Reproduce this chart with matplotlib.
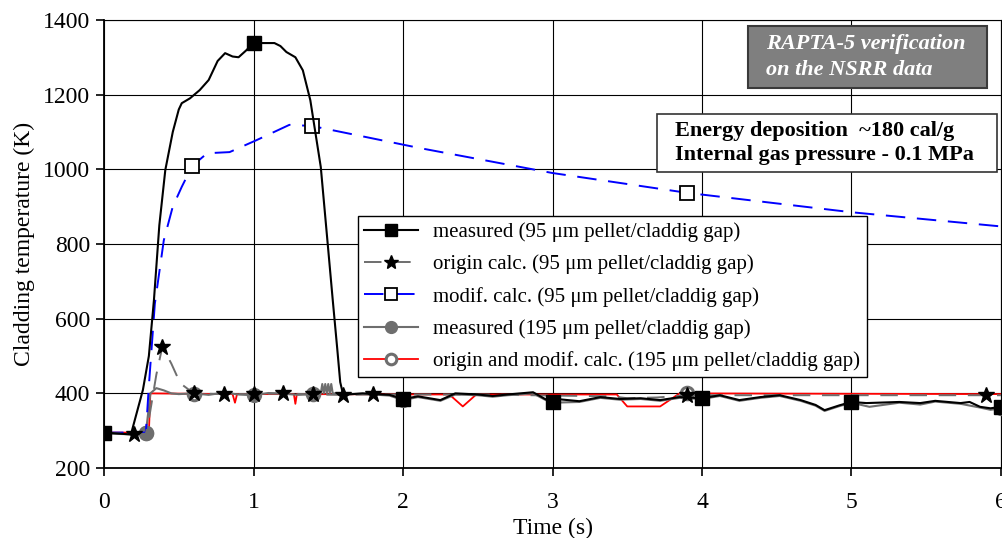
import matplotlib.pyplot as plt
import matplotlib.patches as patches
import numpy as np

plt.rcParams['font.family'] = ['Liberation Serif', 'DejaVu Serif']

# measured, 95 um gap (black, filled squares)
t_m95 = [0, 0.18, 0.26, 0.3, 0.334, 0.37, 0.41, 0.46, 0.50, 0.52, 0.575, 0.64, 0.70, 0.76,
         0.81, 0.86, 0.90, 0.95, 1.0, 1.14, 1.18, 1.22, 1.28, 1.33, 1.38, 1.45, 1.50, 1.53,
         1.56, 1.58, 1.6, 1.73, 1.91, 2.0, 2.1, 2.25,
         2.35, 2.5, 2.6, 2.7, 2.87, 2.95, 3.0, 3.05, 3.18, 3.32, 3.45, 3.59, 3.72, 3.85, 4.0,
         4.12, 4.25, 4.39, 4.52, 4.66, 4.76, 4.82, 4.92, 5.0, 5.1, 5.32, 5.46, 5.56, 5.73,
         5.79, 5.86, 5.93, 6.0]
T_m95 = [295, 290, 409, 500, 650, 850, 998, 1100, 1160, 1177, 1190, 1212, 1239, 1290,
         1311, 1302, 1300, 1318, 1338, 1338, 1330, 1314, 1300, 1265, 1185, 1006, 784, 650,
         520, 430, 396, 400, 396, 385, 392, 382,
         400, 397, 393, 397, 403, 385, 377, 384, 379, 390, 385, 387, 382, 390, 387,
         395, 382, 390, 395, 382, 369, 355, 368, 377, 374, 377, 374, 380, 374,
         377, 364, 360, 364]
marks_m95 = [0, 1, 2, 3, 4, 5, 6]

# origin calc, 95 um gap (grey dashed, stars)
t_o95 = [0, 0.2, 0.28, 0.3, 0.35, 0.39, 0.45, 0.51, 0.6, 0.8, 1.0, 1.2, 1.4, 1.6, 1.8,
         2.5, 3.4, 3.5, 3.7, 3.9, 5.9, 6.0]
T_o95 = [295, 290, 292, 330, 450, 525, 480, 427, 400, 398, 398, 400, 397, 396, 397,
         397, 392, 387, 389, 395, 395, 395]
marks_o95 = [0.2, 0.39, 0.6, 0.8, 1.0, 1.2, 1.4, 1.6, 1.8, 3.9, 5.9]

# modified calc, 95 um gap (blue dashed, open squares)
t_c95 = [0, 0.28, 0.3, 0.34, 0.4, 0.46, 0.52, 0.59, 0.69, 0.84, 1.02, 1.24, 1.39, 2.11,
         3.0, 3.9, 5.0, 6.0]
T_c95 = [295, 295, 420, 640, 810, 900, 953, 1009, 1043, 1046, 1078, 1119, 1116, 1057,
         990, 937, 885, 847]
marks_c95 = [0.59, 1.39, 3.9]

# measured, 195 um gap (grey solid, filled circles)
t_m195 = [0, 0.2, 0.28, 0.31, 0.35, 0.4, 0.45, 0.5, 0.6, 0.7, 0.8, 0.9, 1.0, 1.1, 1.2, 1.3,
          1.4, 1.45, 1.46, 1.47, 1.48, 1.49, 1.5, 1.51, 1.52, 1.53, 1.54, 1.6, 1.73, 1.91,
          2.0, 2.1, 2.25, 2.35, 2.5, 2.6, 2.7, 2.87, 2.95, 3.0, 3.18, 3.32, 3.45, 3.59,
          3.72, 3.85, 4.0, 4.12, 4.25, 4.39, 4.52, 4.66, 4.76, 4.82, 4.92, 5.0, 5.12,
          5.32, 5.46, 5.56, 5.73, 5.86, 5.93, 6.0]
T_m195 = [293, 290, 293, 400, 414, 408, 400, 398, 400, 396, 402, 397, 395, 401, 399, 396,
          398, 400, 425, 400, 425, 400, 425, 400, 425, 400, 400, 398, 399, 394,
          382, 390, 380, 397, 395, 391, 395, 400, 383, 375, 377, 388, 383, 385,
          380, 388, 385, 393, 380, 388, 393, 380, 367, 353, 366, 375, 364,
          375, 370, 378, 372, 362, 356, 360]
marks_m195 = [0.28, 1.0, 2.0, 6.0]

# origin and modified calc, 195 um gap (red, open circles)
t_c195 = [0, 0.3, 0.31, 0.86, 0.876, 0.89, 1.27, 1.28, 1.29, 2.31, 2.40, 2.49, 3.43,
          3.50, 3.72, 3.85, 6.0]
T_c195 = [295, 295, 400, 398, 375, 398, 398, 372, 398, 397, 365, 397, 397,
          365, 365, 400, 398]
marks_c195 = [0.28, 0.6, 1.4, 3.9]


def mark_idx(t, marks):
    t = np.asarray(t)
    return [int(np.argmin(np.abs(t - m))) for m in marks]


def with_marks(t, T, marks):
    # insert marker times into the series (interpolated only for marker placement)
    tt = sorted(set(list(t) + list(marks)))
    TT = np.interp(tt, t, T)
    return tt, TT, mark_idx(tt, marks)


fig = plt.figure(figsize=(10.03, 5.38), dpi=100)
ax = fig.add_axes([0.1037, 0.13, 0.8943, 0.833])

tt, TT, mi = with_marks(t_c195, T_c195, marks_c195)
ax.plot(tt, TT, color='red', lw=1.3, marker='o', markevery=mi, ms=9,
        mfc='white', mec='#6e6e6e', mew=2.2, zorder=3,
        label='origin and modif. calc. (195 μm pellet/claddig gap)')

tt, TT, mi = with_marks(t_m195, T_m195, marks_m195)
ax.plot(tt, TT, color='#6e6e6e', lw=1.5, marker='o', markevery=mi, ms=10,
        mfc='#6e6e6e', mec='#6e6e6e', zorder=3.5,
        label='measured (195 μm pellet/claddig gap)')

tt, TT, mi = with_marks(t_c95, T_c95, marks_c95)
ax.plot(tt, TT, color='#0000ff', lw=1.4, dashes=(10, 6), marker='s', markevery=mi, ms=10,
        mfc='white', mec='black', mew=1.3, zorder=4,
        label='modif. calc. (95 μm pellet/claddig gap)')

tt, TT, mi = with_marks(t_o95, T_o95, marks_o95)
ax.plot(tt, TT, color='#6e6e6e', lw=1.4, dashes=(9, 6), marker='*', markevery=mi, ms=12,
        mfc='black', mec='black', zorder=4.5,
        label='origin calc. (95 μm pellet/claddig gap)')

tt, TT, mi = with_marks(t_m95, T_m95, marks_m95)
ax.plot(tt, TT, color='black', lw=1.5, marker='s', markevery=mi, ms=10,
        mfc='black', mec='black', zorder=5,
        label='measured (95 μm pellet/claddig gap)')

ax.set_xlim(0, 6)
ax.set_ylim(200, 1400)
ax.set_xticks(range(0, 7))
ax.set_yticks(range(200, 1401, 200))
ax.grid(True, color='black', lw=0.8)
ax.set_axisbelow(True)
for s in ['left', 'bottom']:
    ax.spines[s].set_linewidth(1.3)
for s in ['top', 'right']:
    ax.spines[s].set_linewidth(0.8)
ax.tick_params(labelsize=17, direction='out', length=6, width=1.2, pad=4)
ax.tick_params(axis='x', pad=11)
ax.set_xlabel('Time (s)', fontsize=17, labelpad=4)
ax.set_ylabel('Cladding temperature (K)', fontsize=17, labelpad=6)

h, l = ax.get_legend_handles_labels()
order = [4, 3, 2, 1, 0]
leg = ax.legend([h[i] for i in order], [l[i] for i in order], loc='upper left',
                bbox_to_anchor=(0.283, 0.5625), borderaxespad=0, fontsize=15, frameon=True,
                fancybox=False, edgecolor='black', framealpha=1, handlelength=2.6,
                handletextpad=0.72, labelspacing=0.6, borderpad=0.3, markerscale=0.85)
leg.get_frame().set_linewidth(1.0)
leg.set_zorder(10)

# annotation boxes
ax.add_patch(patches.Rectangle((0.718, 0.848), 0.266, 0.138, transform=ax.transAxes,
                               facecolor='#7f7f7f', edgecolor='#3a3a3a', lw=1.5, zorder=11))
ax.text(0.738, 0.917, 'RAPTA-5 verification\non the NSRR data', transform=ax.transAxes,
        ha='left', va='center', color='white', fontsize=16, fontweight='bold',
        fontstyle='italic', linespacing=1.35, zorder=12)

ax.add_patch(patches.Rectangle((0.6165, 0.6607), 0.379, 0.1293, transform=ax.transAxes,
                               facecolor='white', edgecolor='#333333', lw=1.2, zorder=11))
ax.text(0.6366, 0.7254, 'Energy deposition  ~180 cal/g\nInternal gas pressure - 0.1 MPa',
        transform=ax.transAxes, ha='left', va='center', color='black', fontsize=16,
        fontweight='bold', linespacing=1.25, zorder=12)

fig.savefig('out.png', dpi=100)
